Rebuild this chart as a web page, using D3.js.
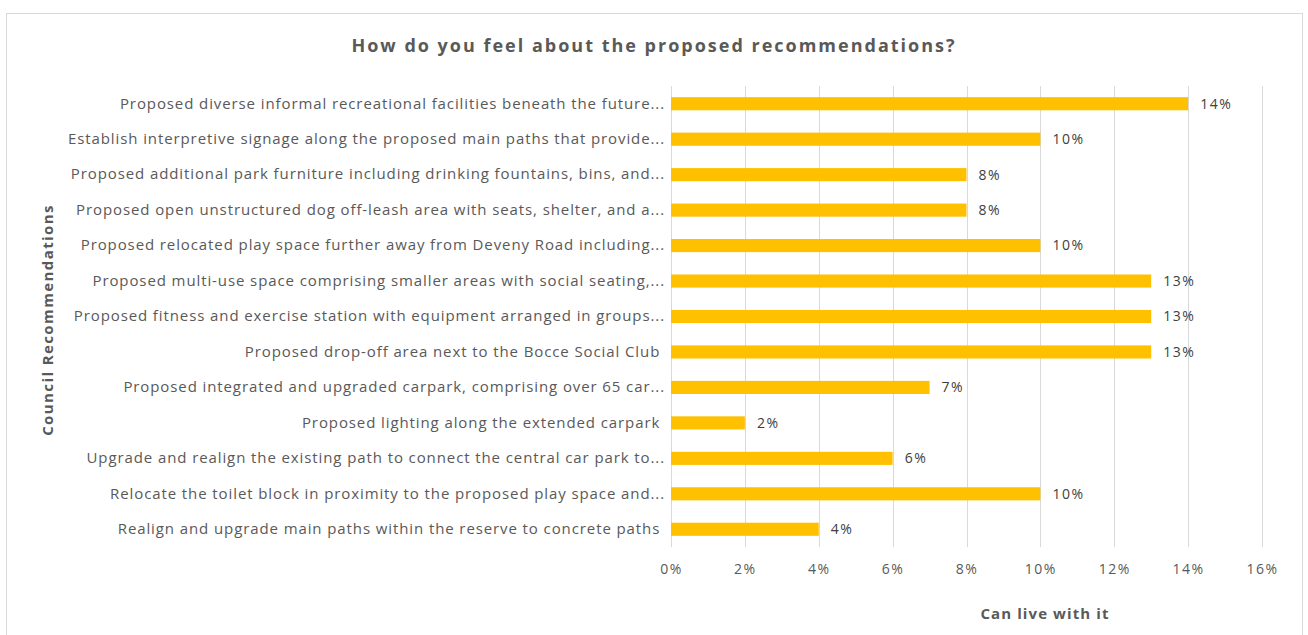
<!DOCTYPE html>
<html>
<head>
<meta charset="utf-8">
<script src="https://cdn.jsdelivr.net/npm/d3@7"></script>
<style>
  html, body { margin: 0; padding: 0; background: #fff; }
  svg { display: block; }
  text { font-family: "Open Sans", "Noto Sans", sans-serif; }
</style>
</head>
<body>
<svg id="chart" width="1308" height="635"></svg>
<script>
const categories = [
  "Proposed diverse informal recreational facilities beneath the future...",
  "Establish interpretive signage along the proposed main paths that provide...",
  "Proposed additional park furniture including drinking fountains, bins, and...",
  "Proposed open unstructured dog off-leash area with seats, shelter, and a...",
  "Proposed relocated play space further away from Deveny Road including...",
  "Proposed multi-use space comprising smaller areas with social seating,...",
  "Proposed fitness and exercise station with equipment arranged in groups...",
  "Proposed drop-off area next to the Bocce Social Club ",
  "Proposed integrated and upgraded carpark, comprising over 65 car...",
  "Proposed lighting along the extended carpark ",
  "Upgrade and realign the existing path to connect the central car park to...",
  "Relocate the toilet block in proximity to the proposed play space and...",
  "Realign and upgrade main paths within the reserve to concrete paths "
];
const values = [14, 10, 8, 8, 10, 13, 13, 13, 7, 2, 6, 10, 4];
const xTicks = [0, 2, 4, 6, 8, 10, 12, 14, 16];
const title = "How do you feel about the proposed recommendations?";
const xTitle = "Can live with it";
const yTitle = "Council Recommendations";

const svg = d3.select("#chart");
const W = 1308, H = 635;
const m = { left: 671, right: 46, top: 86, bottom: 88 };

svg.append("rect").attr("x", 6.5).attr("y", 13.5).attr("width", 1296).attr("height", 640)
  .attr("fill", "#fff").attr("stroke", "#d9d9d9").attr("stroke-width", 1);

const x = d3.scaleLinear().domain([0, 16]).range([m.left, W - m.right]);
const y = d3.scaleBand().domain(categories).range([m.top, H - m.bottom]).paddingInner(0.63).paddingOuter(0.315);

// gridlines
svg.append("g").selectAll("line").data(xTicks).join("line")
  .attr("x1", d => Math.round(x(d)) + 0.5).attr("x2", d => Math.round(x(d)) + 0.5)
  .attr("y1", m.top).attr("y2", H - m.bottom)
  .attr("stroke", "#d9d9d9").attr("stroke-width", 1);

// x axis labels
const xAxis = d3.axisBottom(x).tickValues(xTicks).tickFormat(d => d + "%").tickSize(0).tickPadding(0);
const gx = svg.append("g").attr("transform", `translate(0, ${H - m.bottom + 23})`).call(xAxis);
gx.select(".domain").remove();
gx.selectAll("text").attr("fill", "#595959").style("font-size", "14px")
  .style("letter-spacing", "1.5px")
  .style("font-family", '"Open Sans", sans-serif').attr("dy", "0.32em").attr("y", 0);

// bars
svg.append("g").selectAll("rect").data(values).join("rect")
  .attr("x", x(0))
  .attr("y", (d, i) => y(categories[i]))
  .attr("width", d => x(d) - x(0))
  .attr("height", y.bandwidth())
  .attr("fill", "#FFC000");

// data labels
svg.append("g").selectAll("text").data(values).join("text")
  .attr("x", d => x(d) + 12)
  .attr("y", (d, i) => y(categories[i]) + y.bandwidth() / 2)
  .attr("dy", "0.35em")
  .attr("fill", "#404040")
  .style("font-size", "14px")
  .style("letter-spacing", "1.5px")
  .text(d => d + "%");

// y axis labels
const yAxis = d3.axisLeft(y).tickSize(0).tickPadding(6);
const gy = svg.append("g").attr("transform", `translate(${m.left}, 0)`).call(yAxis);
gy.select(".domain").remove();
gy.selectAll("text").attr("fill", "#595959").style("font-size", "15px")
  .style("letter-spacing", "0.9px")
  .style("font-family", '"Open Sans", sans-serif').style("white-space", "pre")
  .attr("xml:space", "preserve");

// title
svg.append("text").attr("x", 654).attr("y", 46).attr("dy", "0.35em")
  .attr("text-anchor", "middle").attr("fill", "#595959")
  .style("font-size", "18px").style("font-weight", "bold")
  .style("letter-spacing", "2px").text(title);

// x title
svg.append("text").attr("x", 1045).attr("y", 614).attr("dy", "0.35em")
  .attr("text-anchor", "middle").attr("fill", "#595959")
  .style("font-size", "15px").style("font-weight", "bold")
  .style("letter-spacing", "1.1px").text(xTitle);

// y title
svg.append("text").attr("transform", "translate(48, 320) rotate(-90)")
  .attr("dy", "0.35em").attr("text-anchor", "middle").attr("fill", "#595959")
  .style("font-size", "15px").style("font-weight", "bold")
  .style("letter-spacing", "1.4px").text(yTitle);
</script>
</body>
</html>
